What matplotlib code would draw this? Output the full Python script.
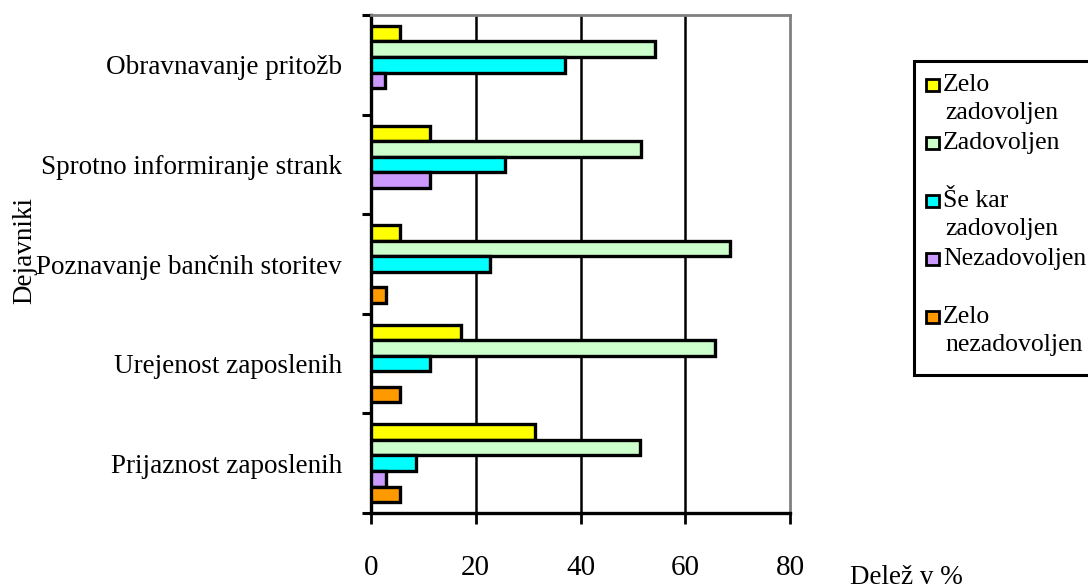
import matplotlib
matplotlib.use("Agg")
import matplotlib.pyplot as plt
from matplotlib.patches import Rectangle
import numpy as np

# ---- data ----
categories = ["Prijaznost zaposlenih", "Urejenost zaposlenih",
              "Poznavanje bančnih storitev", "Sprotno informiranje strank",
              "Obravnavanje pritožb"]
series_names = ["Zelo\nzadovoljen", "Zadovoljen", "Še kar\nzadovoljen",
                "Nezadovoljen", "Zelo\nnezadovoljen"]
zelo_zadovoljen = [31.3, 17.1, 5.6, 11.3, 5.6]
zadovoljen = [51.3, 65.6, 68.5, 51.5, 54.3]
se_kar_zadovoljen = [8.5, 11.3, 22.7, 25.6, 37.0]
nezadovoljen = [2.8, 0.0, 0.0, 11.3, 2.7]
zelo_nezadovoljen = [5.6, 5.6, 2.8, 0.0, 0.0]
colors = ["#FFFF00", "#CCFFCC", "#00FFFF", "#CC99FF", "#FF9900"]
xticks = [0, 20, 40, 60, 80]
x_label = "Delež v %"
y_label = "Dejavniki"

series = [zelo_zadovoljen, zadovoljen, se_kar_zadovoljen, nezadovoljen, zelo_nezadovoljen]

W, H = 1088, 588
plt.rcParams['font.family'] = ['Liberation Serif', 'DejaVu Serif']
fig = plt.figure(figsize=(W / 100, H / 100), dpi=100)

def fx(x):
    return x / W

def fy(y):
    return 1 - y / H

L, R, T, B = 371, 790, 15, 513
ax = fig.add_axes([fx(L), fy(B), fx(R) - fx(L), (B - T) / H])

n = len(categories)
y = np.arange(n)
h = 0.156
for j, vals in enumerate(series):
    off = (2 - j) * h
    for i, v in enumerate(vals):
        if v > 0:
            ax.barh(y[i] + off, v, height=h, color=colors[j], edgecolor="black",
                    linewidth=2.4, zorder=3)

ax.set_xlim(0, 80)
ax.set_ylim(-0.5, n - 0.5)

# gridlines
for gx in xticks[1:-1]:
    ax.axvline(gx, color="black", linewidth=1.8, zorder=1)

ax.set_xticks(xticks)
ax.set_xticklabels([str(t) for t in xticks], fontsize=21)
ax.tick_params(axis='x', direction='out', length=8, width=2, pad=22)

ax.set_yticks(np.arange(-0.5, n, 1.0))
ax.set_yticklabels([])
ax.tick_params(axis='y', which='major', direction='out', length=6.5, width=2.2)
ax.set_yticks(y, minor=True)
ax.set_yticklabels(categories, minor=True, fontsize=19.5)
ax.tick_params(axis='y', which='minor', length=0, pad=21)

for s in ["left", "bottom"]:
    ax.spines[s].set_color("black")
    ax.spines[s].set_linewidth(2.4)
for s in ["top", "right"]:
    ax.spines[s].set_color("#808080")
    ax.spines[s].set_linewidth(2.0)

fig.text(fx(850), fy(577), x_label, fontsize=19.5, ha="left", va="center")
fig.text(fx(25), fy(251), y_label, fontsize=19.5, ha="center", va="center",
         rotation=90)

# ---- manual legend ----
frame = Rectangle((fx(914), fy(375)), fx(1095) - fx(914), (375 - 61) / H,
                  transform=fig.transFigure, facecolor="white", edgecolor="black",
                  linewidth=2.2, clip_on=False)
fig.patches.append(frame)
for j, name in enumerate(series_names):
    cy = 85 + 58 * j
    sq = Rectangle((fx(926), fy(cy + 6)), 13 / W, 12 / H,
                   transform=fig.transFigure, facecolor=colors[j],
                   edgecolor="black", linewidth=2.0)
    fig.patches.append(sq)
    lines = name.split("\n")
    for k, line in enumerate(lines):
        fig.text(fx(943 if k == 0 else 945), fy(cy + 28 * k), line, fontsize=18.5,
                 ha="left", va="center")

fig.savefig("out.png", dpi=100)
